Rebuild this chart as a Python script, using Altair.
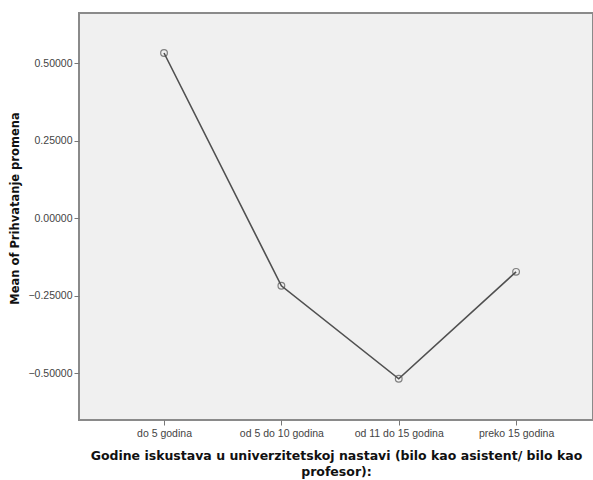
import altair as alt
import pandas as pd

categories = ["do 5 godina", "od 5 do 10 godina", "od 11 do 15 godina", "preko 15 godina"]
means = [0.533, -0.218, -0.518, -0.173]
y_ticks = [-0.5, -0.25, 0.0, 0.25, 0.5]

df = pd.DataFrame({"cat": categories, "mean": means})

x_enc = alt.X(
    "cat:N",
    sort=categories,
    scale=alt.Scale(type="point", padding=0.69, align=0.525),
    axis=alt.Axis(
        title=["Godine iskustava u univerzitetskoj nastavi (bilo kao asistent/ bilo kao", "profesor):"],
        titleFont="DejaVu Sans",
        titleFontWeight="bold",
        titleFontSize=12.5,
        titleColor="#111",
        titlePadding=11,
        titleLineHeight=16,
        labelAngle=0,
        labelFont="Liberation Sans",
        labelFontSize=10.5,
        labelColor="#444",
        labelPadding=3,
        tickSize=5,
        tickColor="#777",
        domain=False,
        grid=False,
    ),
)
y_enc = alt.Y(
    "mean:Q",
    scale=alt.Scale(domain=[-0.651, 0.662], nice=False, zero=False),
    axis=alt.Axis(
        title="Mean of Prihvatanje promena",
        titleFont="DejaVu Sans",
        titleFontWeight="bold",
        titleFontSize=11.5,
        titleColor="#111",
        titleX=-64,
        titleY=195,
        titleAlign="center",
        titleBaseline="middle",
        values=y_ticks,
        format=".5f",
        labelFont="Liberation Sans",
        labelFontSize=10.5,
        labelColor="#444",
        labelPadding=2,
        tickSize=5,
        tickColor="#777",
        domain=False,
        grid=False,
    ),
)

base = alt.Chart(df)
line = base.mark_line(color="#505050", strokeWidth=1.6).encode(x=x_enc, y=y_enc)
pts = base.mark_point(shape="circle", filled=False, color="#505050", size=45, strokeWidth=1.2).encode(x=x_enc, y=y_enc)

chart = (
    alt.layer(line, pts)
    .properties(
        width=514,
        height=407,
        autosize=alt.AutoSizeParams(type="none"),
        padding={"left": 79, "top": 13, "right": 0, "bottom": 60},
        background="white",
    )
    .configure_view(fill="#f0f0f0", stroke="#8a8a8a", strokeWidth=2)
)

chart.save("out.html", embed_options={"renderer": "svg", "actions": False})
